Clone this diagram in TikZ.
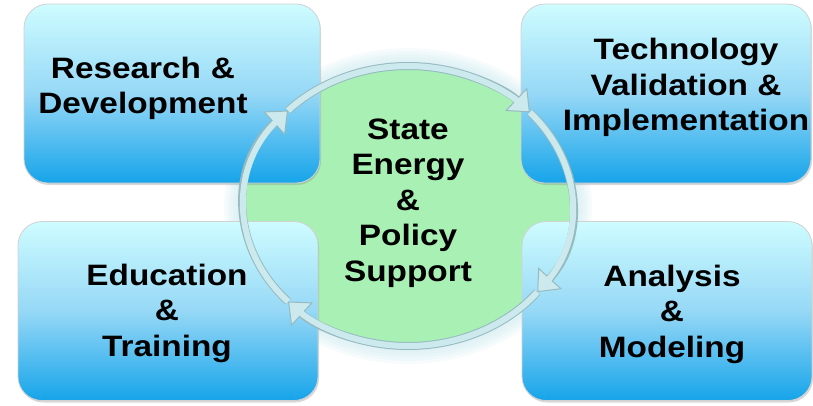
\documentclass[tikz,border=0pt]{standalone}
\usepackage{fontspec}
\setmainfont{Liberation Sans}[FakeStretch=1.13]
\usepackage{tikz}
\usetikzlibrary{calc,arrows.meta,shadows,backgrounds}
\definecolor{boxtop}{RGB}{206,252,255}
\definecolor{boxmid}{RGB}{150,216,246}
\definecolor{boxbottom}{RGB}{22,164,234}
\definecolor{hubgreen}{RGB}{168,240,180}
\definecolor{ringfill}{RGB}{204,234,238}
\definecolor{ringline}{RGB}{150,186,192}
\definecolor{glowcolor}{RGB}{196,230,236}
\newcommand{\rx}{164}
\newcommand{\ry}{140}
\newcommand{\ringwidth}{6pt}

\tikzset{
    topic/.style={rounded corners=24pt, draw=black!18, line width=0.8pt,
        top color=boxtop, bottom color=boxbottom, middle color=boxmid,
        minimum width=#1, minimum height=179pt, inner sep=0pt,
        drop shadow={opacity=0.3, shadow xshift=1pt, shadow yshift=-2pt}},
    caption/.style={font=\fontsize{29.5}{35.5}\selectfont\bfseries, align=center, inner sep=0pt},
    cyclearrow/.style={draw=ringline, line width=\ringwidth+2pt,
        arrows={-Triangle[width=32pt, length=19pt, fill=ringfill, line width=1pt]},
        postaction={draw=ringfill, line width=\ringwidth, -, shorten >=12pt}}
}

\begin{document}
\begin{tikzpicture}[x=1pt,y=1pt]
    \useasboundingbox (0,0) rectangle (813,-405);
    \coordinate (hub) at (408,-206);
    %Glow and hub:
    \begin{scope}[on background layer]
        \foreach \g in {16,13,...,1}
            \fill[glowcolor, opacity=0.14] (hub) ellipse[x radius=168+\g, y radius=142+\g];
        \fill[hubgreen] (hub) ellipse[x radius=168, y radius=142];
    \end{scope}

    %Boxes:
    \node[topic=296pt] (rd) at (172,-93.5) {};
    \node[topic=290pt] (tv) at (666,-93.5) {};
    \node[topic=300pt] (et) at (168,-311) {};
    \node[topic=290pt] (am) at (667,-311) {};

    \node[caption] (rdtext) at (143,-88.5) {Research\,\,\&\\Development};
    \node[caption] (tvtext) at (686,-87.5) {Technology\\Validation \&\\Implementation};
    \node[caption] (ettext) at (167,-313) {Education\\\&\\Training};
    \node[caption] (amtext) at (672,-314) {Analysis\\\&\\Modeling};

    %Ring:
    \foreach \name/\ang in {ul/137, ur/42, lr/-38, ll/-137}
        \coordinate (\name) at ($(hub)+(\ang:\rx pt and \ry pt)$);
    \draw[cyclearrow] (ul) arc[start angle=137, end angle=42, x radius=\rx, y radius=\ry];
    \draw[cyclearrow] (ur) arc[start angle=42, end angle=-38, x radius=\rx, y radius=\ry];
    \draw[cyclearrow] (lr) arc[start angle=-38, end angle=-137, x radius=\rx, y radius=\ry];
    \draw[cyclearrow] (ll) arc[start angle=-137, end angle=-223, x radius=\rx, y radius=\ry];

    \node[caption] (hubtext) at (hub) [yshift=3pt] {State\\Energy\\\&\\Policy\\Support};
\end{tikzpicture}
\end{document}
